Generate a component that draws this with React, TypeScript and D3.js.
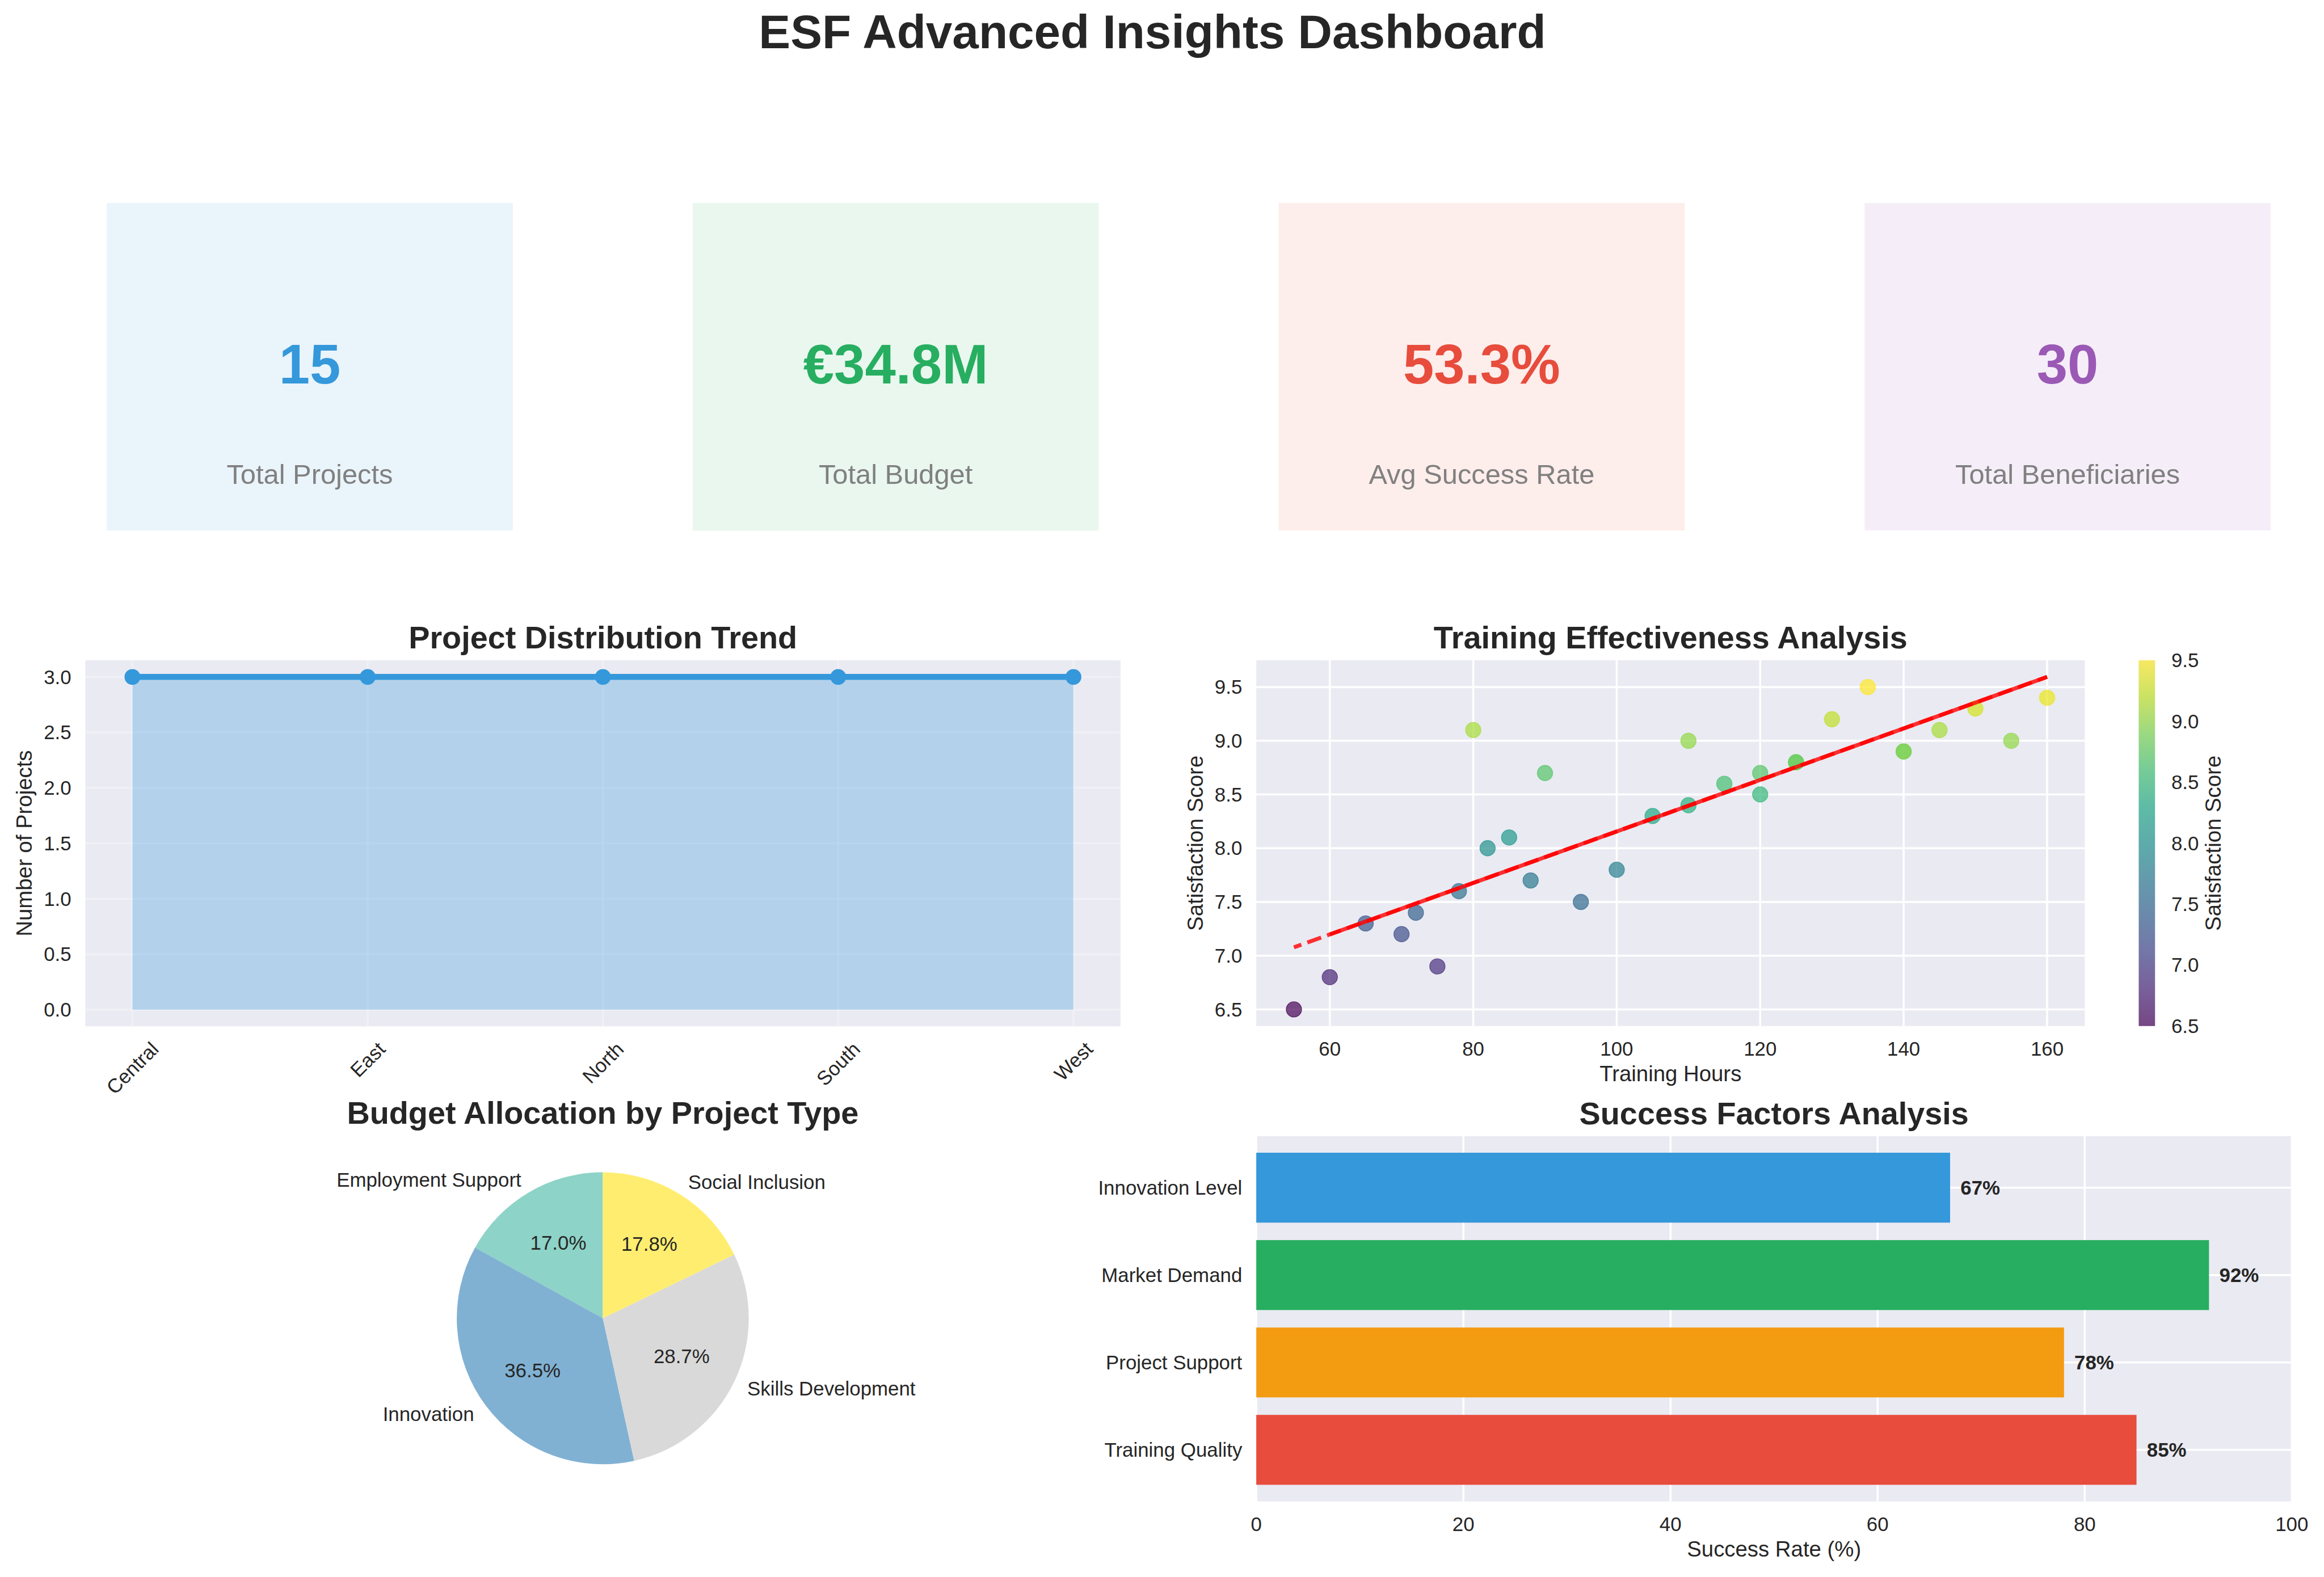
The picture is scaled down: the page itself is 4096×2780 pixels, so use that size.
import * as d3 from 'd3';

const W = 4096;
const H = 2780;
const S = W / 1568;
const u = (v: number) => v * S;
const PT = 1.335 * S; // one matplotlib point

const FONT = '"Liberation Sans", Arial, Helvetica, sans-serif';
const INK = '#262626';
const PANEL_BG = '#eaeaf2';
const GRID = '#ffffff';

const TICK_FS = 10 * PT;
const LABEL_FS = 11 * PT;
const TITLE_FS = 16 * PT;

// KPI cards
const kpiLabels = ['Total Projects', 'Total Budget', 'Avg Success Rate', 'Total Beneficiaries'];
const kpiValues = ['15', '€34.8M', '53.3%', '30'];
const kpiColors = ['#3498db', '#27ae60', '#e74c3c', '#9b59b6'];

// Project distribution by region
const regions = ['Central', 'East', 'North', 'South', 'West'];
const regionCounts = [3, 3, 3, 3, 3];
const trendTicks = [0, 0.5, 1, 1.5, 2, 2.5, 3];

// Training hours vs satisfaction (30 beneficiaries)
const trainingHours = [55, 60, 65, 70, 72, 75, 78, 80, 82, 85, 88, 90, 95, 100, 105,
  110, 110, 115, 120, 120, 125, 125, 130, 135, 140, 140, 145, 150, 155, 160];
const satisfaction = [6.5, 6.8, 7.3, 7.2, 7.4, 6.9, 7.6, 9.1, 8.0, 8.1, 7.7, 8.7, 7.5, 7.8, 8.3,
  9.0, 8.4, 8.6, 8.7, 8.5, 8.8, 8.8, 9.2, 9.5, 8.9, 8.9, 9.1, 9.3, 9.0, 9.4];
const hoursTicks = [60, 80, 100, 120, 140, 160];
const scoreTicks = [6.5, 7, 7.5, 8, 8.5, 9, 9.5];

// Budget by project type (M EUR)
const projectTypes = ['Employment Support', 'Innovation', 'Skills Development', 'Social Inclusion'];
const typeBudgets = [5.9, 12.7, 10.0, 6.2];
const typeColors = ['#8dd3c7', '#80b1d3', '#d9d9d9', '#ffed6f'];

// Success factors
const factors = ['Training Quality', 'Project Support', 'Market Demand', 'Innovation Level'];
const factorRates = [85, 78, 92, 67];
const factorColors = ['#e74c3c', '#f39c12', '#27ae60', '#3498db'];
const rateTicks = [0, 20, 40, 60, 80, 100];

// matplotlib-style 5% margins around a data range
function padded(lo: number, hi: number, m = 0.05): [number, number] {
  const d = (hi - lo) * m;
  return [lo - d, hi + d];
}

let measureCtx: CanvasRenderingContext2D | null = null;
function textWidth(t: string, fs: number) {
  if (!measureCtx) measureCtx = document.createElement('canvas').getContext('2d');
  measureCtx!.font = `${fs}px "Liberation Sans"`;
  return measureCtx!.measureText(t).width;
}

function KpiCards() {
  const x = d3.scaleBand<string>().domain(kpiLabels).range([u(72), u(1532)]).paddingInner(0.307);
  const top = u(137);
  const bottom = u(358);
  return (
    <g>
      {kpiLabels.map((label, i) => {
        const x0 = x(label)!;
        const cx = x0 + x.bandwidth() / 2;
        return (
          <g key={label}>
            <rect x={x0} y={top} width={x.bandwidth()} height={bottom - top}
              fill={kpiColors[i]} fillOpacity={0.1} />
            <text x={cx} y={u(258.7)} textAnchor="middle" fontSize={28 * PT}
              fontWeight="bold" fill={kpiColors[i]}>{kpiValues[i]}</text>
            <text x={cx} y={u(326.5)} textAnchor="middle" fontSize={14 * PT}
              fill="#808080">{label}</text>
          </g>
        );
      })}
    </g>
  );
}

function TrendPanel() {
  const L = u(57.6), R = u(756), T = u(445.6), B = u(692.6);
  const x = d3.scaleLinear().domain(padded(0, regions.length - 1)).range([L, R]);
  const y = d3.scaleLinear().domain(padded(0, d3.max(regionCounts)!)).range([B, T]);
  const pts = regionCounts.map((c, i) => [x(i), y(c)] as [number, number]);
  const area = d3.area<[number, number]>().x(d => d[0]).y0(y(0)).y1(d => d[1]);
  const line = d3.line<[number, number]>();
  const y0 = B + u(7.7);
  return (
    <g>
      <rect x={L} y={T} width={R - L} height={B - T} fill={PANEL_BG} />
      <g stroke={GRID} strokeWidth={PT} strokeOpacity={0.3}>
        {trendTicks.map(t => <line key={t} x1={L} x2={R} y1={y(t)} y2={y(t)} />)}
        {regions.map((r, i) => <line key={r} x1={x(i)} x2={x(i)} y1={T} y2={B} />)}
      </g>
      <path d={area(pts)!} fill="#3498db" fillOpacity={0.3} />
      <path d={line(pts)!} fill="none" stroke="#3498db" strokeWidth={3 * PT} />
      {pts.map((p, i) => <circle key={i} cx={p[0]} cy={p[1]} r={4 * PT} fill="#3498db" />)}
      {trendTicks.map(t => (
        <text key={t} x={L - u(9.5)} y={y(t)} dy="0.35em" textAnchor="end" fontSize={TICK_FS}
          fill={INK}>{d3.format('.1f')(t)}</text>
      ))}
      {regions.map((r, i) => {
        const w = textWidth(r, TICK_FS);
        const cy = y0 + (w + 1.117 * TICK_FS) * 0.3536;
        return (
          <text key={r} transform={`translate(${x(i)},${cy}) rotate(-45)`} dy="0.35em"
            textAnchor="middle" fontSize={TICK_FS} fill={INK}>{r}</text>
        );
      })}
      <text transform={`translate(${u(21.5)},${(T + B) / 2}) rotate(-90)`} textAnchor="middle"
        fontSize={LABEL_FS} fill={INK}>Number of Projects</text>
      <text x={(L + R) / 2} y={T - u(8)} textAnchor="middle" fontSize={TITLE_FS}
        fontWeight="bold" fill={INK}>Project Distribution Trend</text>
    </g>
  );
}

function TrainingPanel() {
  const L = u(847.6), R = u(1406.6), T = u(445.6), B = u(692.4);
  const mx = d3.mean(trainingHours)!;
  const my = d3.mean(satisfaction)!;
  const slope = d3.sum(trainingHours, (h, i) => (h - mx) * (satisfaction[i] - my))
    / d3.sum(trainingHours, h => (h - mx) ** 2);
  const fit = (h: number) => my + slope * (h - mx);
  const [hMin, hMax] = d3.extent(trainingHours) as [number, number];
  const [sMin, sMax] = d3.extent(satisfaction) as [number, number];
  const x = d3.scaleLinear().domain(padded(hMin, hMax)).range([L, R]);
  const y = d3.scaleLinear()
    .domain(padded(Math.min(sMin, fit(hMin)), Math.max(sMax, fit(hMax))))
    .range([B, T]);
  const color = d3.scaleSequential(d3.interpolateViridis).domain([sMin, sMax]);
  const sortedHours = Array.from(new Set(trainingHours)).sort((a, b) => a - b);
  const fitLine = d3.line<number>().x(h => x(h)).y(h => y(fit(h)));

  const cbL = u(1443), cbR = u(1454);
  const cbY = d3.scaleLinear().domain([sMin, sMax]).range([B, T]);
  const stops = d3.range(0, 1.0001, 0.1);
  return (
    <g>
      <rect x={L} y={T} width={R - L} height={B - T} fill={PANEL_BG} />
      <g stroke={GRID} strokeWidth={PT}>
        {scoreTicks.map(t => <line key={t} x1={L} x2={R} y1={y(t)} y2={y(t)} />)}
        {hoursTicks.map(t => <line key={t} x1={x(t)} x2={x(t)} y1={T} y2={B} />)}
      </g>
      {trainingHours.map((h, i) => (
        <circle key={i} cx={x(h)} cy={y(satisfaction[i])} r={3.87 * PT}
          fill={color(satisfaction[i])} fillOpacity={0.7}
          stroke={color(satisfaction[i])} strokeOpacity={0.7} strokeWidth={0.4 * PT} />
      ))}
      <path d={fitLine([hMin, hMax])!} fill="none" stroke="red" strokeOpacity={0.8}
        strokeWidth={2 * PT} strokeDasharray={`${7.4 * PT},${3.2 * PT}`}
        strokeDashoffset={3.4 * PT} />
      <path d={fitLine([sortedHours[1], hMax])!} fill="none" stroke="red" strokeOpacity={0.8}
        strokeWidth={2 * PT} />
      {scoreTicks.map(t => (
        <text key={t} x={L - u(9.5)} y={y(t)} dy="0.35em" textAnchor="end" fontSize={TICK_FS}
          fill={INK}>{d3.format('.1f')(t)}</text>
      ))}
      {hoursTicks.map(t => (
        <text key={t} x={x(t)} y={B + u(20.2)} textAnchor="middle" fontSize={TICK_FS}
          fill={INK}>{t}</text>
      ))}
      <text x={(L + R) / 2} y={B + u(37.2)} textAnchor="middle" fontSize={LABEL_FS}
        fill={INK}>Training Hours</text>
      <text transform={`translate(${u(811.5)},${(T + B) / 2}) rotate(-90)`} textAnchor="middle"
        fontSize={LABEL_FS} fill={INK}>Satisfaction Score</text>
      <text x={(L + R) / 2} y={T - u(8)} textAnchor="middle" fontSize={TITLE_FS}
        fontWeight="bold" fill={INK}>Training Effectiveness Analysis</text>

      <defs>
        <linearGradient id="viridisBar" x1="0" y1="1" x2="0" y2="0">
          {stops.map(s => (
            <stop key={s} offset={s} stopColor={d3.interpolateViridis(s)} stopOpacity={0.7} />
          ))}
        </linearGradient>
      </defs>
      <rect x={cbL} y={cbY(sMax)} width={cbR - cbL} height={cbY(sMin) - cbY(sMax)} fill={PANEL_BG} />
      <rect x={cbL} y={cbY(sMax)} width={cbR - cbL} height={cbY(sMin) - cbY(sMax)}
        fill="url(#viridisBar)" />
      {scoreTicks.map(t => (
        <text key={t} x={cbR + u(11)} y={cbY(t)} dy="0.35em" fontSize={TICK_FS}
          fill={INK}>{d3.format('.1f')(t)}</text>
      ))}
      <text transform={`translate(${u(1498.5)},${(T + B) / 2}) rotate(-90)`} textAnchor="middle"
        fontSize={LABEL_FS} fill={INK}>Satisfaction Score</text>
    </g>
  );
}

function BudgetPie() {
  const cx = u(406.7), cy = u(889.6), r = u(98.5);
  const total = d3.sum(typeBudgets);
  const pie = d3.pie<number>().sort(null).startAngle(0).endAngle(-2 * Math.PI);
  const arcs = pie(typeBudgets);
  const arc = d3.arc<d3.PieArcDatum<number>>().innerRadius(0).outerRadius(r);
  return (
    <g>
      <text x={cx} y={u(758.3)} textAnchor="middle" fontSize={TITLE_FS} fontWeight="bold"
        fill={INK}>Budget Allocation by Project Type</text>
      <g transform={`translate(${cx},${cy})`}>
        {arcs.map((a, i) => <path key={i} d={arc(a)!} fill={typeColors[i]} />)}
        {arcs.map((a, i) => {
          const mid = (a.startAngle + a.endAngle) / 2;
          const lx = Math.sin(mid) * r * 1.1;
          const ly = -Math.cos(mid) * r * 1.1;
          const px = Math.sin(mid) * r * 0.6;
          const py = -Math.cos(mid) * r * 0.6;
          return (
            <g key={i} fontSize={TICK_FS} fill={INK}>
              <text x={lx} y={ly} dy="0.35em" textAnchor={lx < 0 ? 'end' : 'start'}>
                {projectTypes[i]}
              </text>
              <text x={px} y={py} dy="0.35em" textAnchor="middle">
                {d3.format('.1f')((a.data / total) * 100)}%
              </text>
            </g>
          );
        })}
      </g>
    </g>
  );
}

function FactorsPanel() {
  const L = u(847.6), R = u(1546.3), T = u(766.7), B = u(1013.2);
  const x = d3.scaleLinear().domain([0, 100]).range([L, R]);
  const y = d3.scaleLinear().domain(padded(-0.4, factors.length - 1 + 0.4)).range([B, T]);
  const half = 0.4;
  return (
    <g>
      <rect x={L} y={T} width={R - L} height={B - T} fill={PANEL_BG} />
      <g stroke={GRID} strokeWidth={PT}>
        {rateTicks.map(t => <line key={t} x1={x(t)} x2={x(t)} y1={T} y2={B} />)}
        {factors.map((f, i) => <line key={f} x1={L} x2={R} y1={y(i)} y2={y(i)} />)}
      </g>
      {factors.map((f, i) => (
        <rect key={f} x={x(0)} y={y(i + half)} width={x(factorRates[i]) - x(0)}
          height={y(i - half) - y(i + half)} fill={factorColors[i]} />
      ))}
      {factors.map((f, i) => (
        <text key={f} x={x(factorRates[i] + 1)} y={y(i)} dy="0.35em" fontSize={TICK_FS}
          fontWeight="bold" fill={INK}>{factorRates[i]}%</text>
      ))}
      {factors.map((f, i) => (
        <text key={f} x={L - u(9.5)} y={y(i)} dy="0.35em" textAnchor="end" fontSize={TICK_FS}
          fill={INK}>{f}</text>
      ))}
      {rateTicks.map(t => (
        <text key={t} x={x(t)} y={B + u(20.2)} textAnchor="middle" fontSize={TICK_FS}
          fill={INK}>{t}</text>
      ))}
      <text x={(L + R) / 2} y={B + u(37.2)} textAnchor="middle" fontSize={LABEL_FS}
        fill={INK}>Success Rate (%)</text>
      <text x={(L + R) / 2} y={T - u(8)} textAnchor="middle" fontSize={TITLE_FS}
        fontWeight="bold" fill={INK}>Success Factors Analysis</text>
    </g>
  );
}

export default function App() {
  return (
    <svg width={W} height={H} viewBox={`0 0 ${W} ${H}`} fontFamily={FONT}
      style={{ position: 'absolute', left: 0, top: 0, background: '#ffffff' }}>
      <rect width={W} height={H} fill="#ffffff" />
      <text x={u(777.5)} y={u(32.5)} textAnchor="middle" fontSize={24 * PT} fontWeight="bold"
        fill={INK}>ESF Advanced Insights Dashboard</text>
      <KpiCards />
      <TrendPanel />
      <TrainingPanel />
      <BudgetPie />
      <FactorsPanel />
    </svg>
  );
}
